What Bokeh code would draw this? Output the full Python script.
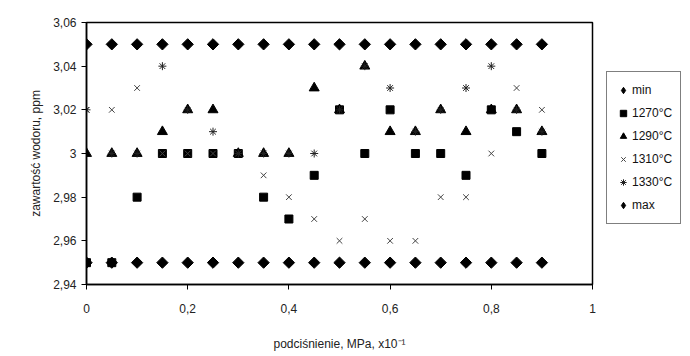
import math
from bokeh.plotting import figure
from bokeh.layouts import row
from bokeh.models import Legend, LegendItem, FixedTicker, Range1d
from bokeh.embed import file_html
from bokeh.resources import INLINE

# ---- data ----
x_vals = [0.0, 0.05, 0.1, 0.15, 0.2, 0.25, 0.3, 0.35, 0.4, 0.45,
          0.5, 0.55, 0.6, 0.65, 0.7, 0.75, 0.8, 0.85, 0.9]
min_vals = [2.95, 2.95, 2.95, 2.95, 2.95, 2.95, 2.95, 2.95, 2.95, 2.95,
            2.95, 2.95, 2.95, 2.95, 2.95, 2.95, 2.95, 2.95, 2.95]
t1270 = [2.95, 2.95, 2.98, 3.00, 3.00, 3.00, 3.00, 2.98, 2.97, 2.99,
         3.02, 3.00, 3.02, 3.00, 3.00, 2.99, 3.02, 3.01, 3.00]
t1290 = [3.00, 3.00, 3.00, 3.01, 3.02, 3.02, 3.00, 3.00, 3.00, 3.03,
         3.02, 3.04, 3.01, 3.01, 3.02, 3.01, 3.02, 3.02, 3.01]
t1310 = [3.02, 3.02, 3.03, 3.00, 3.00, 3.00, 3.00, 2.99, 2.98, 2.97,
         2.96, 2.97, 2.96, 2.96, 2.98, 2.98, 3.00, 3.03, 3.02]
t1330 = [3.02, 3.00, 3.00, 3.04, 3.02, 3.01, 3.00, 3.00, 3.00, 3.00,
         3.02, 3.04, 3.03, 3.01, 3.02, 3.03, 3.04, 3.02, 3.01]
max_vals = [3.05, 3.05, 3.05, 3.05, 3.05, 3.05, 3.05, 3.05, 3.05, 3.05,
            3.05, 3.05, 3.05, 3.05, 3.05, 3.05, 3.05, 3.05, 3.05]

series_labels = ["min", "1270°C", "1290°C", "1310°C", "1330°C", "max"]
x_ticks = [0.0, 0.2, 0.4, 0.6, 0.8, 1.0]
x_tick_labels = ["0", "0,2", "0,4", "0,6", "0,8", "1"]
y_ticks = [2.94, 2.96, 2.98, 3.0, 3.02, 3.04, 3.06]
y_tick_labels = ["2,94", "2,96", "2,98", "3", "3,02", "3,04", "3,06"]
x_title = "podciśnienie, MPa, x10⁻¹"
y_title = "zawartość wodoru, ppm"

FONT = "Liberation Sans"
HEIGHT = 353
BORDER_TOP = 22
BORDER_BOTTOM = 64

# ---- main chart ----
p = figure(width=606, height=HEIGHT, output_backend="svg", toolbar_location=None,
           x_range=Range1d(0, 1), y_range=Range1d(2.94, 3.06),
           min_border_left=86, min_border_right=14,
           min_border_top=BORDER_TOP, min_border_bottom=BORDER_BOTTOM)
p.background_fill_color = "white"
p.border_fill_color = "white"
p.outline_line_color = "black"
p.outline_line_width = 1.5
p.grid.visible = False

for ax in (p.xaxis[0], p.yaxis[0]):
    ax.axis_line_color = "black"
    ax.axis_line_width = 1.5
    ax.major_tick_line_color = "black"
    ax.major_tick_out = 5
    ax.major_tick_in = 0
    ax.minor_tick_line_color = None
    ax.major_label_text_font = FONT
    ax.major_label_text_font_size = "12px"
    ax.major_label_text_color = "#222222"
    ax.axis_label_text_font = FONT
    ax.axis_label_text_font_size = "12px"
    ax.axis_label_text_font_style = "normal"
    ax.axis_label_text_color = "#222222"

p.xaxis[0].ticker = FixedTicker(ticks=x_ticks)
p.xaxis[0].major_label_overrides = {v: s for v, s in zip(x_ticks, x_tick_labels)}
p.yaxis[0].ticker = FixedTicker(ticks=y_ticks)
p.yaxis[0].major_label_overrides = {v: s for v, s in zip(y_ticks, y_tick_labels)}
p.xaxis[0].axis_label = x_title
p.yaxis[0].axis_label = y_title
p.xaxis[0].major_label_standoff = 14
p.xaxis[0].axis_label_standoff = 21
p.yaxis[0].major_label_standoff = 5
p.yaxis[0].axis_label_standoff = 7

DIAMOND = dict(marker="square", angle=math.pi / 4, size=8,
               fill_color="black", line_color="black")
SQUARE = dict(marker="square", size=8, fill_color="black", line_color="black")
TRIANGLE = dict(marker="triangle", size=10, fill_color="black", line_color="black")
CROSS = dict(marker="x", size=8, line_color="#444444", line_width=1)
STAR = dict(marker="asterisk", size=8, line_color="#222222", line_width=1)

p.scatter(x_vals, min_vals, **DIAMOND)
p.scatter(x_vals, t1270, **SQUARE)
p.scatter(x_vals, t1290, **TRIANGLE)
p.scatter(x_vals, t1310, **CROSS)
p.scatter(x_vals, t1330, **STAR)
p.scatter(x_vals, max_vals, **DIAMOND)

# ---- legend panel (separate small figure to the right) ----
pl = figure(width=76, height=HEIGHT, output_backend="svg", toolbar_location=None,
            x_range=Range1d(0, 1), y_range=Range1d(0, 1),
            x_axis_location=None, y_axis_location=None,
            min_border_left=0, min_border_right=0,
            min_border_top=BORDER_TOP, min_border_bottom=BORDER_BOTTOM)
pl.outline_line_color = None
pl.grid.visible = False
pl.background_fill_color = "white"
pl.border_fill_color = "white"

nan = [float("nan")]
k_diam = pl.scatter(nan, nan, marker="diamond", size=13,
                    fill_color="black", line_color="black")
k_sq = pl.scatter(nan, nan, **SQUARE)
k_tri = pl.scatter(nan, nan, **TRIANGLE)
k_x = pl.scatter(nan, nan, **CROSS)
k_st = pl.scatter(nan, nan, **STAR)
keys = [k_diam, k_sq, k_tri, k_x, k_st, k_diam]

legend = Legend(items=[LegendItem(label=l, renderers=[r])
                       for l, r in zip(series_labels, keys)],
                location=(0, 60))
legend.label_text_font = FONT
legend.label_text_font_size = "12px"
legend.label_text_color = "#111111"
legend.label_height = 20
legend.glyph_height = 20
legend.glyph_width = 16
legend.label_standoff = 1
legend.spacing = 3
legend.padding = 8
legend.margin = 0
legend.border_line_color = "black"
legend.border_line_width = 1
legend.background_fill_color = "white"
legend.background_fill_alpha = 1
pl.add_layout(legend, "center")

layout = row(p, pl)
open("out.html", "w").write(file_html(layout, INLINE))
